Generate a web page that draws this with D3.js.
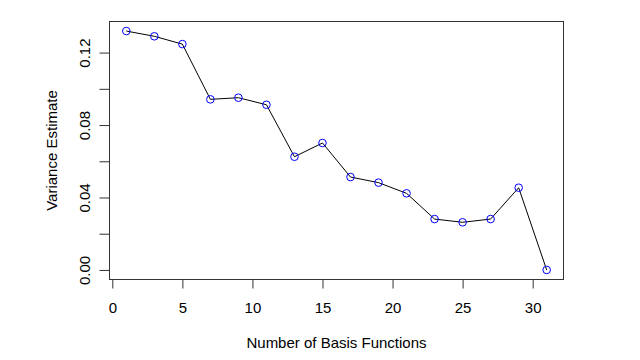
<!DOCTYPE html>
<html><head><meta charset="utf-8">
<script src="https://cdn.jsdelivr.net/npm/d3@7"></script>
<style>body{margin:0;background:#fff}svg{display:block}text{font-family:"Liberation Sans",Arial,sans-serif;fill:#000}</style>
</head><body><svg id="c" width="640" height="360"></svg>
<script>
const basisFunctions = [1,3,5,7,9,11,13,15,17,19,21,23,25,27,29,31];
const varianceEstimate = [0.1319,0.1290,0.1247,0.0942,0.0951,0.0912,0.0625,0.0701,0.0513,0.0482,0.0423,0.0281,0.0263,0.0281,0.0454,0.0000];
const xTicks = [0,5,10,15,20,25,30];
const yTicks = [0,0.02,0.04,0.06,0.08,0.10,0.12];
const yTickLabels = ["0.00","","0.04","","0.08","","0.12"];

const FS = 15;
const svg = d3.select("#c");
const L=109.5, R=563.5, T=21.5, B=279.5;
const xmin=d3.min(basisFunctions), xmax=d3.max(basisFunctions);
const ymin=d3.min(varianceEstimate), ymax=d3.max(varianceEstimate);
const xr=xmax-xmin, yr=ymax-ymin;
const x=d3.scaleLinear().domain([xmin-0.04*xr, xmax+0.04*xr]).range([L,R]);
const y=d3.scaleLinear().domain([ymin-0.04*yr, ymax+0.04*yr]).range([B,T]);

svg.append("rect").attr("x",L).attr("y",T).attr("width",R-L).attr("height",B-T)
  .attr("fill","none").attr("stroke","#333").attr("stroke-width",1);

const xa=svg.append("g").attr("transform",`translate(0,${B})`)
  .call(d3.axisBottom(x).tickValues(xTicks).tickSize(9).tickPadding(14).tickFormat(d3.format("d")));
const ya=svg.append("g").attr("transform",`translate(${L},0)`)
  .call(d3.axisLeft(y).tickValues(yTicks).tickSize(10).tickFormat((d,i)=>yTickLabels[i]));
[xa,ya].forEach(a=>{a.select(".domain").remove();a.selectAll("line").attr("stroke","#333");a.selectAll("text").attr("font-size",FS).attr("fill","#000").attr("font-family","Liberation Sans, Arial, sans-serif");});
ya.selectAll(".tick text").each(function(){
  d3.select(this).attr("x",null).attr("dy","0").attr("text-anchor","middle")
  .attr("transform","translate(-20,0) rotate(-90)");
});
svg.append("line").attr("x1",x(0)).attr("x2",x(30)).attr("y1",B).attr("y2",B).attr("stroke","#333");
svg.append("line").attr("x1",L).attr("x2",L).attr("y1",y(0)).attr("y2",y(0.12)).attr("stroke","#333");

const pts=basisFunctions.map((d,i)=>[d,varianceEstimate[i]]);
svg.append("path").datum(pts).attr("fill","none").attr("stroke","#000").attr("stroke-width",1)
  .attr("d",d3.line().x(d=>x(d[0])).y(d=>y(d[1])));
svg.selectAll("circle.p").data(pts).join("circle").attr("class","p")
  .attr("cx",d=>x(d[0])).attr("cy",d=>y(d[1])).attr("r",3.8)
  .attr("fill","none").attr("stroke","#0000ff").attr("stroke-width",1);

svg.append("text").attr("x",(L+R)/2).attr("y",348).attr("text-anchor","middle").attr("font-size",FS).text("Number of Basis Functions");
svg.append("text").attr("transform",`translate(57,${(T+B)/2}) rotate(-90)`).attr("text-anchor","middle").attr("font-size",FS).text("Variance Estimate");
</script></body></html>
